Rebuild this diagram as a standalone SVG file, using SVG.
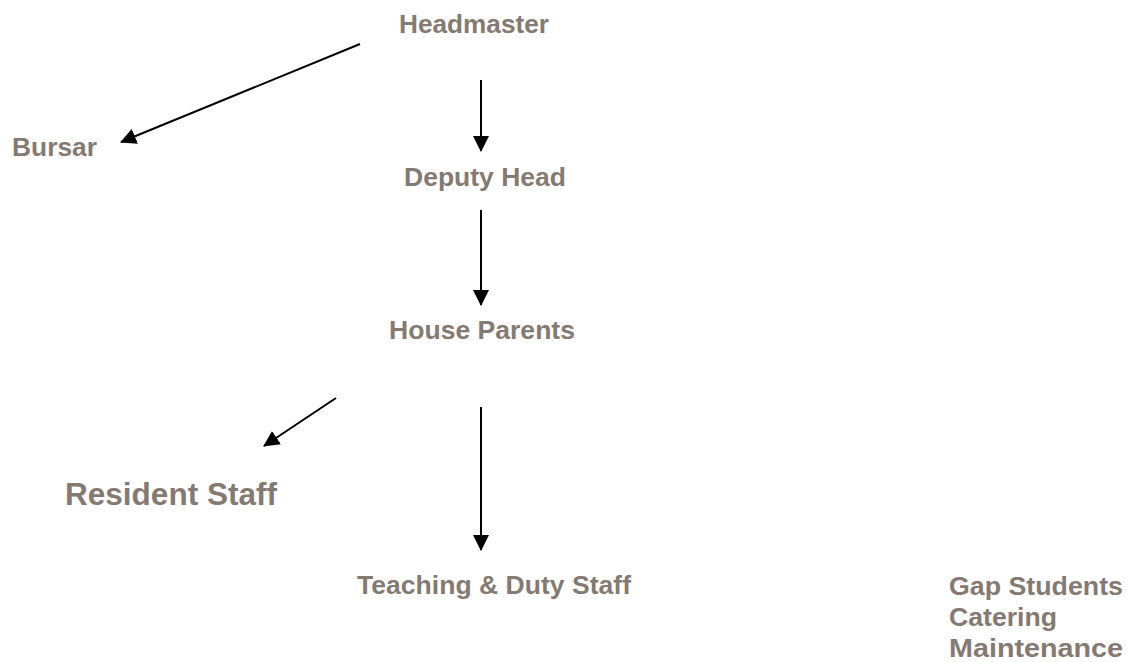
<svg xmlns="http://www.w3.org/2000/svg" width="1128" height="662" viewBox="0 0 1128 662">
<style>
.t{font-family:"Liberation Sans",Arial,sans-serif;font-weight:bold;fill:#857a72;font-size:26px}
.c{stroke:#000;stroke-width:2;fill:none}
</style>
<defs>
<marker id="ah" markerUnits="userSpaceOnUse" markerWidth="16" markerHeight="16" viewBox="0 0 16 16" refX="15" refY="8" orient="auto">
<path d="M0,0 L16,8 L0,16 Z" fill="#000"/>
</marker>
</defs>
<rect width="1128" height="662" fill="#fff"/>
<g id="connectors">
<line class="c" x1="360" y1="44" x2="121" y2="142" marker-end="url(#ah)"/>
<line class="c" x1="481" y1="80" x2="481" y2="151" marker-end="url(#ah)"/>
<line class="c" x1="481" y1="210" x2="481" y2="305" marker-end="url(#ah)"/>
<line class="c" x1="336" y1="398" x2="264" y2="446" marker-end="url(#ah)"/>
<line class="c" x1="481" y1="407" x2="481" y2="550" marker-end="url(#ah)"/>
</g>
<g id="headmaster"><text class="t" x="399" y="33" textLength="150" lengthAdjust="spacingAndGlyphs">Headmaster</text></g>
<g id="bursar"><text class="t" x="12" y="156" textLength="85" lengthAdjust="spacingAndGlyphs">Bursar</text></g>
<g id="deputy-head"><text class="t" x="404" y="186" textLength="162" lengthAdjust="spacingAndGlyphs">Deputy Head</text></g>
<g id="house-parents"><text class="t" x="389" y="339" textLength="186" lengthAdjust="spacingAndGlyphs">House Parents</text></g>
<g id="resident-staff"><text class="t" x="65" y="505" style="font-size:32px" textLength="212" lengthAdjust="spacingAndGlyphs">Resident Staff</text></g>
<g id="teaching-duty-staff"><text class="t" x="357" y="594" textLength="274" lengthAdjust="spacingAndGlyphs">Teaching &amp; Duty Staff</text></g>
<g id="support-staff">
<text class="t" x="949" y="595" textLength="174" lengthAdjust="spacingAndGlyphs">Gap Students</text>
<text class="t" x="949" y="626" textLength="108" lengthAdjust="spacingAndGlyphs">Catering</text>
<text class="t" x="949" y="657" textLength="174" lengthAdjust="spacingAndGlyphs">Maintenance</text>
</g>
</svg>
